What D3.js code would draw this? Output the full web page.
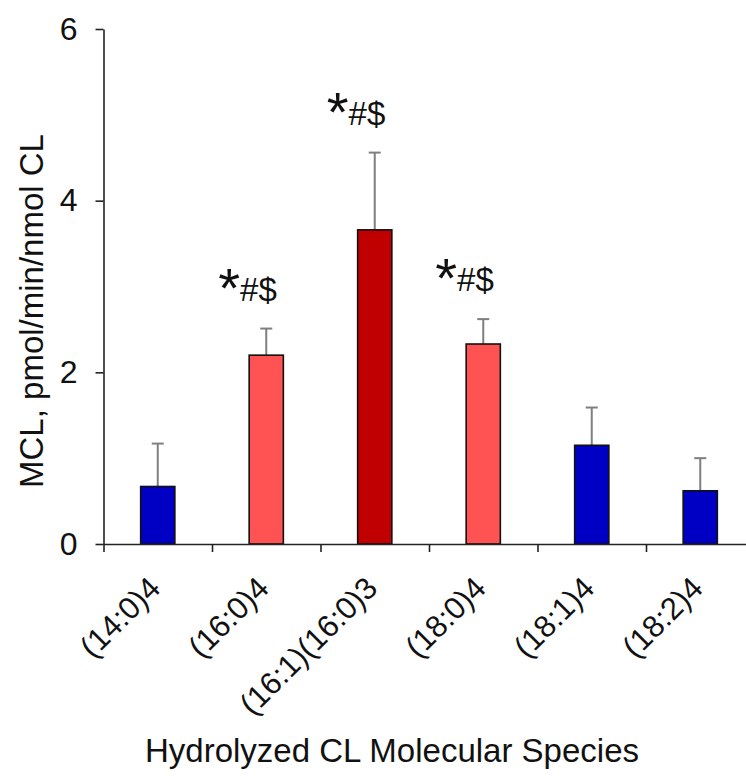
<!DOCTYPE html>
<html><head><meta charset="UTF-8">
<style>
body { margin: 0; background: #fff; }
svg text { font-family: "Liberation Sans", Arial, sans-serif; }
</style>
</head>
<body>
<svg width="746" height="783"></svg>
<script src="https://cdn.jsdelivr.net/npm/d3@7"></script>
<script>

// values
var species = ["(14:0)4", "(16:0)4", "(16:1)(16:0)3", "(18:0)4", "(18:1)4", "(18:2)4"];
var means   = [0.67, 2.20, 3.66, 2.33, 1.15, 0.62];
var errors  = [0.50, 0.31, 0.90, 0.29, 0.44, 0.38];
var groups  = ["low", "high", "top", "high", "low", "low"];
var marks   = ["", "#$", "#$", "#$", "", ""];
var yTicks  = [0, 2, 4, 6];

var colors = { low: "#0000c4", high: "#ff5252", top: "#c00000" };

var svg = d3.select("svg"),
    plotLeft = 103.5, plotRight = 754.5, plotTop = 29, plotBottom = 544;

var x = d3.scaleBand()
    .domain(species)
    .range([plotLeft, plotRight]);

var edges = d3.scaleLinear().domain([0, species.length]).range([plotLeft, plotRight]);

var y = d3.scaleLinear()
    .domain([0, 6])
    .range([plotBottom, plotTop]);

var barW = x.bandwidth() * 0.315;

// error bars (upper only)
var eb = svg.append("g").attr("stroke", "#7f7f7f").attr("stroke-width", 2);
species.forEach(function(s, i) {
    var cx = x(s) + x.bandwidth() / 2;
    eb.append("line")
        .attr("x1", cx).attr("x2", cx)
        .attr("y1", y(means[i])).attr("y2", y(means[i] + errors[i]));
    eb.append("line")
        .attr("x1", cx - 6).attr("x2", cx + 6)
        .attr("y1", y(means[i] + errors[i])).attr("y2", y(means[i] + errors[i]));
});

svg.append("g")
  .selectAll("rect")
  .data(species)
  .enter().append("rect")
    .attr("x", function(d) { return x(d) + x.bandwidth() / 2 - barW / 2; })
    .attr("y", function(d, i) { return y(means[i]); })
    .attr("width", barW)
    .attr("height", function(d, i) { return y(0) - y(means[i]); })
    .attr("fill", function(d, i) { return colors[groups[i]]; })
    .attr("stroke", "#111")
    .attr("stroke-width", 1.6);

// significance marks
species.forEach(function(s, i) {
    if (!marks[i]) return;
    var cx = x(s) + x.bandwidth() / 2;
    var by = y(means[i] + errors[i]) - 28;
    var t = svg.append("text")
        .attr("x", cx - 48)
        .attr("y", by + 6)
        .attr("fill", "#111");
    t.append("tspan").attr("font-size", 56).attr("font-weight", 300).text("*");
    t.append("tspan").attr("font-size", 33).attr("dy", -6).text(marks[i]);
});

// y axis
var yAxis = svg.append("g")
    .attr("transform", "translate(" + plotLeft + ",0)")
    .call(d3.axisLeft(y).tickValues(yTicks).tickFormat(d3.format("d"))
        .tickSize(8).tickSizeOuter(0).tickPadding(18));
yAxis.select(".domain").attr("stroke-width", 1.6).attr("stroke", "#222");
yAxis.selectAll(".tick line").attr("stroke-width", 1.6).attr("stroke", "#222");
yAxis.selectAll(".tick text").attr("font-size", 32).attr("fill", "#111")
    .attr("font-family", "'Liberation Sans', Arial, sans-serif");

// x axis: ticks between categories
var xAxis = svg.append("g")
    .attr("transform", "translate(0," + plotBottom + ")")
    .call(d3.axisBottom(edges).tickValues(d3.range(species.length + 1))
        .tickFormat("").tickSize(8).tickSizeOuter(0));
xAxis.select(".domain").attr("stroke-width", 1.6).attr("stroke", "#222");
xAxis.selectAll(".tick line").attr("stroke-width", 1.6).attr("stroke", "#222");

// category labels
svg.append("g")
  .selectAll("text")
  .data(species)
  .enter().append("text")
    .attr("transform", function(d) {
        return "translate(" + (x(d) + x.bandwidth() / 2 + 4.5) + "," + (plotBottom + 46) + ") rotate(-45)";
    })
    .attr("text-anchor", "end")
    .attr("font-size", 31)
    .attr("fill", "#111")
    .text(function(d) { return d; });

// titles
svg.append("text")
    .attr("x", 392)
    .attr("y", 762)
    .attr("text-anchor", "middle")
    .attr("font-size", 33)
    .attr("fill", "#111")
    .text("Hydrolyzed CL Molecular Species");

svg.append("text")
    .attr("transform", "translate(43,311) rotate(-90)")
    .attr("text-anchor", "middle")
    .attr("font-size", 33)
    .attr("fill", "#111")
    .text("MCL, pmol/min/nmol CL");

</script>
</body></html>
